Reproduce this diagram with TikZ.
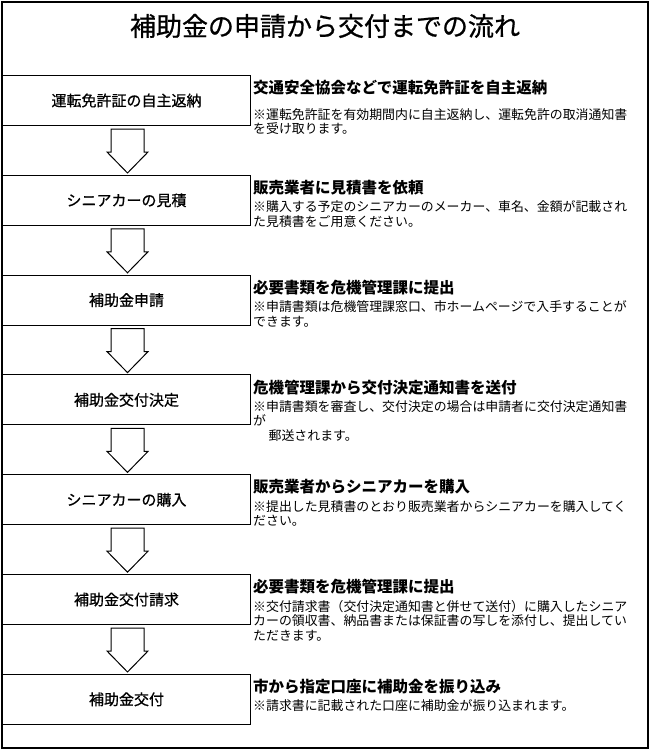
\documentclass[tikz,border=0pt]{standalone}
\usepackage{fontspec}
\setmainfont{Noto Sans CJK JP}
\newfontfamily\medfont[FakeBold=0.8]{Noto Sans CJK JP}
\begin{document}
\begin{tikzpicture}[x=1pt,y=-1pt,
  box/.style={draw,line width=1pt,minimum width=248pt,minimum height=50pt,anchor=north west,inner sep=0pt,font=\medfont\fontsize{15}{17}\selectfont},
  head/.style={anchor=north west,inner sep=0pt,font=\fontsize{15.5}{18}\selectfont\bfseries},
  note/.style={anchor=north west,inner sep=0pt,align=left,font=\fontsize{12.9}{14.5}\selectfont},
  barrow/.style={draw,line width=1pt,fill=white}]
\useasboundingbox (0,0) rectangle (650,750);
\draw[line width=1.2pt] (2,2) rectangle (648,748);
\node[font=\medfont\fontsize{26}{30}\selectfont] (title) at (325,26) {補助金の申請から交付までの流れ};
\foreach \i/\lab/\hd/\nt/\dy in {
 1/運転免許証の自主返納/交通安全協会などで運転免許証を自主返納/{※運転免許証を有効期間内に自主返納し、運転免許の取消通知書\\を受け取ります。}/33,
 2/シニアカーの見積/販売業者に見積書を依頼/{※購入する予定のシニアカーのメーカー、車名、金額が記載され\\た見積書をご用意ください。}/26,
 3/補助金申請/必要書類を危機管理課に提出/{※申請書類は危機管理課窓口、市ホームページで入手することが\\できます。}/26,
 4/補助金交付決定/危機管理課から交付決定通知書を送付/{※申請書類を審査し、交付決定の場合は申請者に交付決定通知書\\が\\\hspace*{1.2em}郵送されます。}/26,
 5/シニアカーの購入/販売業者からシニアカーを購入/{※提出した見積書のとおり販売業者からシニアカーを購入してく\\ださい。}/26,
 6/補助金交付請求/必要書類を危機管理課に提出/{※交付請求書（交付決定通知書と併せて送付）に購入したシニア\\カーの領収書、納品書または保証書の写しを添付し、提出してい\\ただきます。}/26,
 7/補助金交付/市から指定口座に補助金を振り込み/{※請求書に記載された口座に補助金が振り込まれます。}/26}{
  \pgfmathsetmacro\t{75+99.8*(\i-1)}
  \node[box] (b\i) at (2,\t) {\lab};
  \node[head] (h\i) at (253,\t+5) {\hd};
  \node[note] (n\i) at (253,\t+\dy) {\nt};
}
\foreach \i in {1,...,6}{
  \pgfmathsetmacro\t{75+99.8*(\i-1)+50}
  \draw[barrow] (111,\t+4) -- (144,\t+4) -- (144,\t+27) -- (148,\t+27) -- (127.5,\t+48) -- (107,\t+27) -- (111,\t+27) -- cycle;
}
\end{tikzpicture}
\end{document}
